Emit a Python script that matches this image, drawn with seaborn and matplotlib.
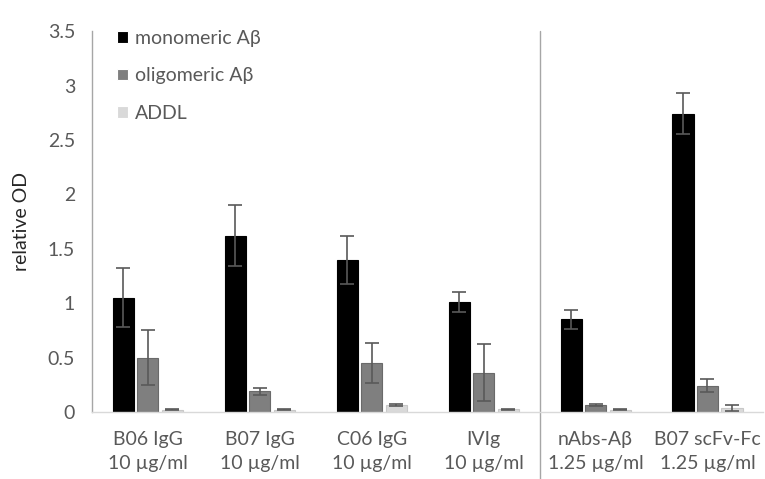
import matplotlib
matplotlib.use("Agg")
import matplotlib.pyplot as plt
import seaborn as sns
import pandas as pd
import numpy as np

categories = ["B06 IgG\n10 µg/ml", "B07 IgG\n10 µg/ml", "C06 IgG\n10 µg/ml",
              "IVIg\n10 µg/ml", "nAbs-Aβ\n1.25 µg/ml", "B07 scFv-Fc\n1.25 µg/ml"]
series = ["monomeric Aβ", "oligomeric Aβ", "ADDL"]
monomeric = [1.05, 1.62, 1.40, 1.01, 0.85, 2.74]
monomeric_err = [0.27, 0.28, 0.22, 0.09, 0.09, 0.19]
oligomeric = [0.50, 0.19, 0.45, 0.36, 0.065, 0.24]
oligomeric_err = [0.25, 0.03, 0.18, 0.26, 0.01, 0.06]
addl = [0.02, 0.02, 0.065, 0.025, 0.02, 0.035]
addl_err = [0.005, 0.005, 0.01, 0.005, 0.005, 0.025]
yticks = [0, 0.5, 1, 1.5, 2, 2.5, 3, 3.5]
ytick_labels = ["0", "0.5", "1", "1.5", "2", "2.5", "3", "3.5"]

colors = ["#000000", "#7f7f7f", "#d9d9d9"]
edges = ["#000000", "#6a6a6a", "#c8c8c8"]

df = pd.DataFrame({
    "cat": categories * 3,
    "series": sum([[s] * len(categories) for s in series], []),
    "val": monomeric + oligomeric + addl,
})
errs = [monomeric_err, oligomeric_err, addl_err]
vals = [monomeric, oligomeric, addl]

sns.set_style("white")
plt.rcParams["font.family"] = ["Lato", "DejaVu Sans"]
txt = "#595959"
fs = 14

fig = plt.figure(figsize=(7.65, 4.79), dpi=100)
ax = fig.add_axes([0.120, 0.140, 0.878, 0.795])

sns.barplot(data=df, x="cat", y="val", hue="series", order=categories,
            hue_order=series, palette=colors, errorbar=None,
            width=0.656, gap=0.14, ax=ax, linewidth=0.8)

bar_containers = list(ax.containers)
for i, cont in enumerate(bar_containers):
    xs = []
    for p in cont.patches:
        p.set_edgecolor(edges[i])
        xs.append(p.get_x() + p.get_width() / 2)
    ax.errorbar(xs, vals[i], yerr=errs[i], fmt="none", ecolor="#595959",
                elinewidth=1.2, capsize=5, capthick=1.2, zorder=5)

ax.set_ylim(0, 3.5)
ax.set_xlim(-0.5, len(categories) - 0.5)
ax.set_yticks(yticks)
ax.set_yticklabels(ytick_labels)
ax.tick_params(axis="y", length=0, pad=12, labelsize=fs, labelcolor=txt)
ax.tick_params(axis="x", length=0, pad=13.5, labelsize=fs, labelcolor=txt)
for lab in ax.get_xticklabels():
    lab.set_linespacing(1.55)
ax.set_xlabel("")
ax.set_ylabel("relative OD", fontsize=fs, color="#262626", labelpad=13)

for s in ["top", "right"]:
    ax.spines[s].set_visible(False)
ax.spines["left"].set_color("#a6a6a6")
ax.spines["left"].set_linewidth(1.0)
ax.spines["bottom"].set_color("#d9d9d9")
ax.spines["bottom"].set_linewidth(1.0)

# separator line between groups
ax.axvline(3.5, ymin=-0.2, ymax=1.0, color="#a6a6a6", linewidth=1.0,
           clip_on=False)

leg = ax.legend(loc="upper left", bbox_to_anchor=(0.012, 1.05), frameon=False,
                fontsize=fs, labelcolor=txt, handlelength=0.55, handleheight=0.55,
                handletextpad=0.35, labelspacing=1.07)

fig.savefig("out.png", dpi=100)
